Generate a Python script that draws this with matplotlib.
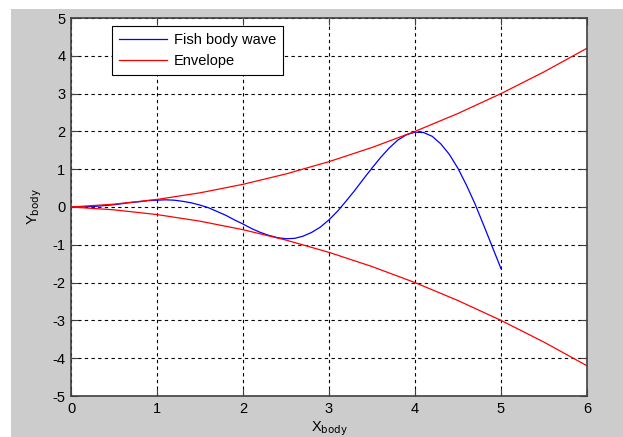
import numpy as np
import matplotlib
matplotlib.use('Agg')
import matplotlib.pyplot as plt
from matplotlib.patches import Rectangle

# values
x_wave = [0.0, 0.1, 0.2, 0.3, 0.4, 0.5, 0.6, 0.7, 0.8, 0.9,
          1.0, 1.1, 1.2, 1.3, 1.4, 1.5, 1.6, 1.7, 1.8, 1.9,
          2.0, 2.1, 2.2, 2.3, 2.4, 2.5, 2.6, 2.7, 2.8, 2.9,
          3.0, 3.1, 3.2, 3.3, 3.4, 3.5, 3.6, 3.7, 3.8, 3.9,
          4.0, 4.1, 4.2, 4.3, 4.4, 4.5, 4.6, 4.7, 4.8, 4.9, 5.0]
y_wave = [0.00, 0.00, 0.01, 0.02, 0.04, 0.06, 0.09, 0.12, 0.14, 0.17,
          0.18, 0.19, 0.18, 0.15, 0.11, 0.05, -0.02, -0.12, -0.22, -0.34,
          -0.45, -0.57, -0.67, -0.75, -0.81, -0.84, -0.83, -0.77, -0.67, -0.53,
          -0.34, -0.11, 0.16, 0.44, 0.74, 1.03, 1.31, 1.56, 1.77, 1.91,
          1.98, 1.97, 1.87, 1.67, 1.39, 1.02, 0.57, 0.07, -0.49, -1.06, -1.63]

x_env = [0.0, 0.5, 1.0, 1.5, 2.0, 2.5, 3.0, 3.5, 4.0, 4.5, 5.0, 5.5, 6.0]
y_env_up = [0.0, 0.075, 0.2, 0.375, 0.6, 0.875, 1.2, 1.575, 2.0, 2.475, 3.0, 3.575, 4.2]
y_env_low = [0.0, -0.075, -0.2, -0.375, -0.6, -0.875, -1.2, -1.575, -2.0, -2.475, -3.0, -3.575, -4.2]

plt.rcParams['font.family'] = ['Liberation Sans', 'DejaVu Sans']
plt.rcParams['font.size'] = 10.5
plt.rcParams['axes.unicode_minus'] = False

fig = plt.figure(figsize=(6.23, 4.37), dpi=100, facecolor='white')
fig.patches.append(Rectangle((11 / 623, 0), 1, 1 - 9 / 437, transform=fig.transFigure,
                             facecolor='#cccccc', edgecolor='none', zorder=-10))

ax = fig.add_axes([71 / 623, 1 - 396 / 437, 516 / 623, 378 / 437])
ax.set_facecolor('white')

ax.plot(x_wave, y_wave, color='#0000ff', linewidth=0.9, label='Fish body wave')
ax.plot(x_env, y_env_up, color='#ff0000', linewidth=0.9, label='Envelope')
ax.plot(x_env, y_env_low, color='#ff0000', linewidth=0.9)

ax.set_xlim(0, 6)
ax.set_ylim(-5, 5)
ax.set_xticks(range(0, 7))
ax.set_yticks(range(-5, 6))
ax.grid(True, color='black', linestyle=(0, (3, 3)), linewidth=0.8)
ax.tick_params(direction='in', length=5, width=0.8, top=True, right=True,
               colors='#404040', labelcolor='black', labelsize=10.5, pad=4)
for s in ax.spines.values():
    s.set_color('#404040')
    s.set_linewidth(1.2)

ax.set_xlabel('X$_{\\mathrm{body}}$', fontsize=10.5, labelpad=3)
ax.set_ylabel('Y$_{\\mathrm{body}}$', fontsize=10.5, labelpad=6)

leg = ax.legend(loc='upper left', bbox_to_anchor=(0.079, 0.979), borderaxespad=0,
                fancybox=False, edgecolor='black', framealpha=1, handlelength=3.3,
                handletextpad=0.45, labelspacing=0.45, borderpad=0.5)
leg.get_frame().set_linewidth(0.8)

fig.savefig('out.png', dpi=100, facecolor=fig.get_facecolor())
